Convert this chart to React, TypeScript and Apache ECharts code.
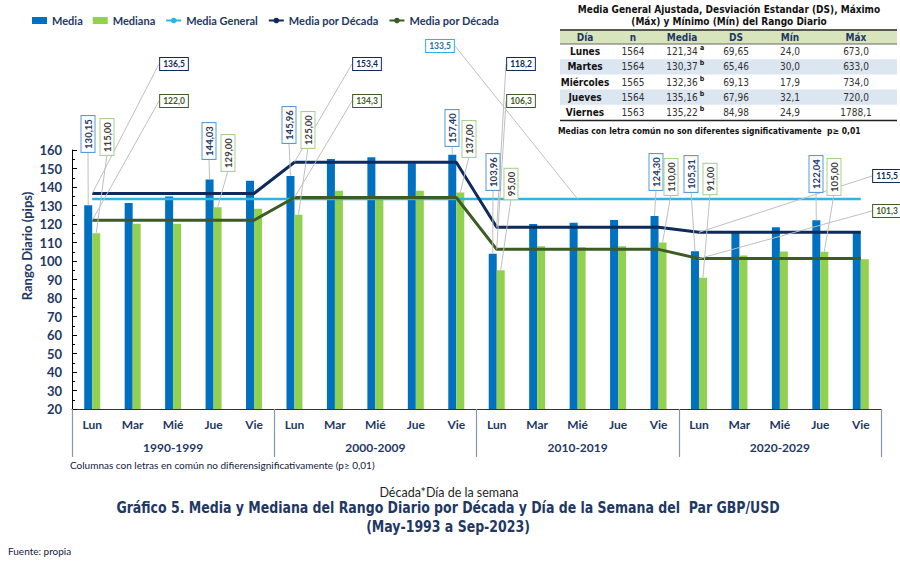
import React, { useEffect, useRef } from 'react';
import * as echarts from 'echarts';

// ---------------- DATA ----------------
const days = ['Lun', 'Mar', 'Mié', 'Jue', 'Vie'];
const decades = ['1990-1999', '2000-2009', '2010-2019', '2020-2029'];
const media = [130.15, 131.3, 134.8, 144.03, 143.4, 145.96, 155.2, 156.1, 152.8, 157.4, 103.96, 120.0, 120.7, 122.2, 124.3, 105.31, 116.0, 118.2, 122.04, 115.8];
const mediana = [115.0, 120.2, 120.2, 129.0, 128.2, 125.0, 138.0, 134.0, 138.0, 137.0, 95.0, 108.0, 107.5, 108.0, 110.0, 91.0, 103.0, 105.2, 105.0, 101.0];
const mediaGeneral = 133.5;
const mediaDecada = [136.5, 153.4, 118.2, 115.5];
const medianaDecada = [122.0, 134.3, 106.3, 101.3];
const labelledBars = [0, 3, 5, 9, 10, 14, 15, 18];

const tableHeader = ['Día', 'n', 'Media', 'DS', 'Mín', 'Máx'];
const tableDays = ['Lunes', 'Martes', 'Miércoles', 'Jueves', 'Viernes'];
const tableN = [1564, 1564, 1565, 1564, 1563];
const tableMedia = [121.34, 130.37, 132.36, 135.16, 135.22];
const tableLetters = ['a', 'b', 'b', 'b', 'b'];
const tableDS = [69.65, 65.46, 69.13, 67.96, 84.98];
const tableMin = [24.0, 30.0, 17.9, 32.1, 24.9];
const tableMax = [673.0, 633.0, 734.0, 720.0, 1788.1];

// ---------------- LAYOUT (annotation placement, px) ----------------
const mediaBoxPos = [[88, 134], [209, 141], [289, 125], [452, 128], [493, 172], [656, 172], [691, 174], [816, 174]];
const medianaBoxPos = [[107, 137], [228, 153], [308, 130], [469, 139], [511, 184], [671, 177], [710, 179], [834, 177]];
const mediaDecBoxPos = [[174, 64], [367, 64], [521, 64], [887, 176]];
const medianaDecBoxPos = [[174, 101], [367, 101], [521, 101], [887, 211]];
const mediaGeneralBox = { pos: [440, 46], idx: 12 };
const tableColX = [585, 633, 682, 736, 790, 856];
const tableRowY = [51.6, 66.8, 82, 97.2, 112.4];

const FONT = 'Lato';
const NAVY = '#1F3864';
const BLUE = '#0070C0';
const GREEN = '#92D050';
const LBLUE = '#2DB4E6';
const DNAVY = '#0F2A5C';
const DGREEN = '#3D5C25';
const TFONT = '"DejaVu Sans Condensed", "DejaVu Sans", sans-serif';

const fmt = (v: number, d: number) => v.toFixed(d).replace('.', ',');

export default function App() {
  const ref = useRef<HTMLDivElement>(null);
  useEffect(() => {
    if (!ref.current) return;
    const chart = echarts.init(ref.current, undefined, { renderer: 'svg' });
    const cats = decades.flatMap((d) => days.map((day) => day + '|' + d));
    chart.setOption({
      animation: false,
      backgroundColor: '#fff',
      legend: {
        left: 27,
        top: 10,
        itemWidth: 15,
        itemHeight: 7,
        itemGap: 10,
        textStyle: { fontFamily: FONT, fontWeight: 'bold', fontSize: 11, color: NAVY },
        formatter: (n: string) => n.trim(),
        data: [
          { name: 'Media', icon: 'rect' },
          { name: 'Mediana', icon: 'rect' },
          { name: 'Media General' },
          { name: 'Media por Década' },
          { name: 'Media por Década ' },
        ],
      },
      grid: { left: 72, right: 19, top: 150, bottom: 152, containLabel: false },
      xAxis: [
        {
          type: 'category',
          data: cats,
          position: 'bottom',
          axisLine: { lineStyle: { color: '#333', width: 1 } },
          axisTick: { show: false },
          axisLabel: {
            interval: 0,
            margin: 9,
            formatter: (v: string) => v.split('|')[0],
            fontFamily: FONT,
            fontWeight: 'bold',
            fontSize: 12,
            color: NAVY,
          },
        },
        {
          type: 'category',
          data: decades,
          position: 'bottom',
          axisLine: { show: false },
          axisTick: { show: true, length: 48, interval: 0, lineStyle: { color: '#8496B0', width: 1.2 } },
          axisLabel: { interval: 0, margin: 32, fontFamily: FONT, fontWeight: 'bold', fontSize: 12, color: NAVY },
        },
      ],
      yAxis: {
        type: 'value',
        min: 20,
        max: 160,
        interval: 10,
        axisLine: { show: true, lineStyle: { color: '#000', width: 1 } },
        axisTick: { show: true, inside: true, length: 5, lineStyle: { color: '#000' } },
        minorTick: { show: true, splitNumber: 2, length: 3, lineStyle: { color: '#000' } },
        splitLine: { show: false },
        axisLabel: { margin: 10, fontFamily: FONT, fontWeight: 'bold', fontSize: 13, color: NAVY },
      },
      series: [
        { name: 'Media', type: 'bar', data: media, barWidth: 8, barGap: '0%', itemStyle: { color: BLUE } },
        { name: 'Mediana', type: 'bar', data: mediana, barWidth: 8, barGap: '0%', itemStyle: { color: GREEN } },
        {
          name: 'Media General', type: 'line', data: cats.map(() => mediaGeneral), symbol: 'none',
          lineStyle: { color: LBLUE, width: 2.5 }, itemStyle: { color: LBLUE },
        },
        {
          name: 'Media por Década', type: 'line', data: cats.map((_, i) => mediaDecada[Math.floor(i / 5)]), symbol: 'none',
          lineStyle: { color: DNAVY, width: 3 }, itemStyle: { color: DNAVY },
        },
        {
          name: 'Media por Década ', type: 'line', data: cats.map((_, i) => medianaDecada[Math.floor(i / 5)]), symbol: 'none',
          lineStyle: { color: DGREEN, width: 3 }, itemStyle: { color: DGREEN },
        },
      ],
    });

    const pt = (i: number, v: number) => chart.convertToPixel({ seriesIndex: 2 }, [i, v]) as number[];
    const g: any[] = [];
    const lead = (x1: number, y1: number, x2: number, y2: number) =>
      g.push({ type: 'line', silent: true, z: 50, shape: { x1, y1, x2, y2 }, style: { stroke: '#BFBFBF', lineWidth: 1 } });
    const box = (txt: string, x: number, y: number, rot: number, border: string, color: string, size: number) =>
      g.push({
        type: 'text', x, y, rotation: rot, z: 60, silent: true,
        style: {
          text: txt, align: 'center', verticalAlign: 'middle', fontFamily: FONT, fontWeight: 'bold', fontSize: size,
          fill: color, backgroundColor: '#fff', borderColor: border, borderWidth: 1, padding: [2, 3, 1, 3],
        },
      });
    const halfLen = (t: string) => t.length * 2.4 + 3;

    labelledBars.forEach((idx, k) => {
      const pm = pt(idx, media[idx]);
      const tm = fmt(media[idx], 2);
      const [mx, my] = mediaBoxPos[k];
      lead(mx, my + halfLen(tm), pm[0] - 4, pm[1]);
      box(tm, mx, my, Math.PI / 2, '#5B9BD5', NAVY, 9.5);
      const pd = pt(idx, mediana[idx]);
      const td = fmt(mediana[idx], 2);
      const [dx, dy] = medianaBoxPos[k];
      lead(dx, dy + halfLen(td), pd[0] + 4, pd[1]);
      box(td, dx, dy, Math.PI / 2, '#A9D18E', '#404040', 9.5);
    });
    mediaDecada.forEach((v, k) => {
      const p = pt(k * 5, v);
      const t = fmt(v, 1);
      const [bx, by] = mediaDecBoxPos[k];
      lead(bx - halfLen(t), by, p[0], p[1]);
      box(t, bx, by, 0, DNAVY, DNAVY, 8.5);
    });
    medianaDecada.forEach((v, k) => {
      const p = pt(k * 5, v);
      const t = fmt(v, 1);
      const [bx, by] = medianaDecBoxPos[k];
      lead(bx - halfLen(t), by, p[0], p[1]);
      box(t, bx, by, 0, DGREEN, DGREEN, 8.5);
    });
    {
      const p = pt(mediaGeneralBox.idx, mediaGeneral);
      const t = fmt(mediaGeneral, 1);
      const [bx, by] = mediaGeneralBox.pos;
      lead(bx + halfLen(t), by, p[0], p[1]);
      box(t, bx, by, 0, LBLUE, '#1F6F99', 8.5);
    }

    // ------- table -------
    const tx = (text: string, x: number, y: number, o: any = {}) =>
      g.push({
        type: 'text', x, y, z: 70, silent: true, scaleX: o.scaleX || 1,
        style: {
          text, align: o.align || 'center', verticalAlign: 'middle', fontFamily: o.font || TFONT,
          fontWeight: o.bold ? 'bold' : 'normal', fontSize: o.size || 10, fill: o.color || '#111',
        },
      });
    tx('Media General Ajustada, Desviación Estandar (DS), Máximo', 729, 9, { bold: true, size: 10 });
    tx('(Máx) y Mínimo (Mín) del Rango Diario', 729, 21.5, { bold: true, size: 10 });
    g.push({ type: 'rect', z: 65, silent: true, shape: { x: 560, y: 30.5, width: 337, height: 13.5 }, style: { fill: '#D8E4BC' } });
    tableDays.forEach((_, r) => {
      if (r % 2 === 1)
        g.push({ type: 'rect', z: 65, silent: true, shape: { x: 560, y: tableRowY[r] - 7.6, width: 337, height: 15.2 }, style: { fill: '#DCE6F1' } });
    });
    g.push({ type: 'line', z: 66, silent: true, shape: { x1: 560, y1: 30, x2: 897, y2: 30 }, style: { stroke: '#222', lineWidth: 1.5 } });
    g.push({ type: 'line', z: 66, silent: true, shape: { x1: 560, y1: 44, x2: 897, y2: 44 }, style: { stroke: '#444', lineWidth: 0.8 } });
    g.push({ type: 'line', z: 66, silent: true, shape: { x1: 560, y1: 120.5, x2: 897, y2: 120.5 }, style: { stroke: '#222', lineWidth: 1.5 } });
    tableHeader.forEach((h, c) => tx(h, tableColX[c], 37.5, { bold: true, color: '#1F3864' }));
    tableDays.forEach((d, r) => {
      const y = tableRowY[r];
      tx(d, tableColX[0], y, { bold: true });
      tx(String(tableN[r]), tableColX[1], y, { color: '#333' });
      tx(fmt(tableMedia[r], 2), tableColX[2], y, { color: '#333' });
      tx(tableLetters[r], tableColX[2] + 20, y - 3.5, { bold: true, size: 7, color: '#111' });
      tx(fmt(tableDS[r], 2), tableColX[3], y, { color: '#333' });
      tx(fmt(tableMin[r], 1), tableColX[4], y, { color: '#333' });
      tx(fmt(tableMax[r], 1), tableColX[5], y, { color: '#333' });
    });
    tx('Medias con letra común no son diferentes significativamente  p≥ 0,01', 558, 131, { bold: true, size: 8.5, align: 'left' });

    // ------- other texts -------
    g.push({
      type: 'text', x: 27, y: 246, rotation: Math.PI / 2, silent: true,
      style: { text: 'Rango Diario (pips)', align: 'center', verticalAlign: 'middle', fontFamily: FONT, fontWeight: 'bold', fontSize: 13, fill: NAVY },
    });
    tx('Columnas con letras en común no difierensignificativamente (p≥ 0,01)', 70, 465, { font: FONT, size: 10, align: 'left', color: '#14213D' });
    tx('Década*Día de la semana', 449, 492, { font: FONT, size: 12.5, color: '#1F1F1F' });
    const titleFont = '"DejaVu Sans Condensed", "DejaVu Sans", sans-serif';
    tx('Gráfico 5. Media y Mediana del Rango Diario por Década y Día de la Semana del  Par GBP/USD', 448, 508, { font: titleFont, size: 16, bold: true, color: NAVY, scaleX: 0.87 });
    tx('(May-1993 a Sep-2023)', 448, 527, { font: titleFont, size: 16, bold: true, color: NAVY, scaleX: 0.87 });
    tx('Fuente: propia', 8, 551, { font: FONT, size: 10, align: 'left', color: '#14213D' });

    chart.setOption({ graphic: g });
    return () => chart.dispose();
  }, []);
  return <div ref={ref} style={{ position: 'absolute', left: 0, top: 0, width: 900, height: 561, background: '#fff' }} />;
}
